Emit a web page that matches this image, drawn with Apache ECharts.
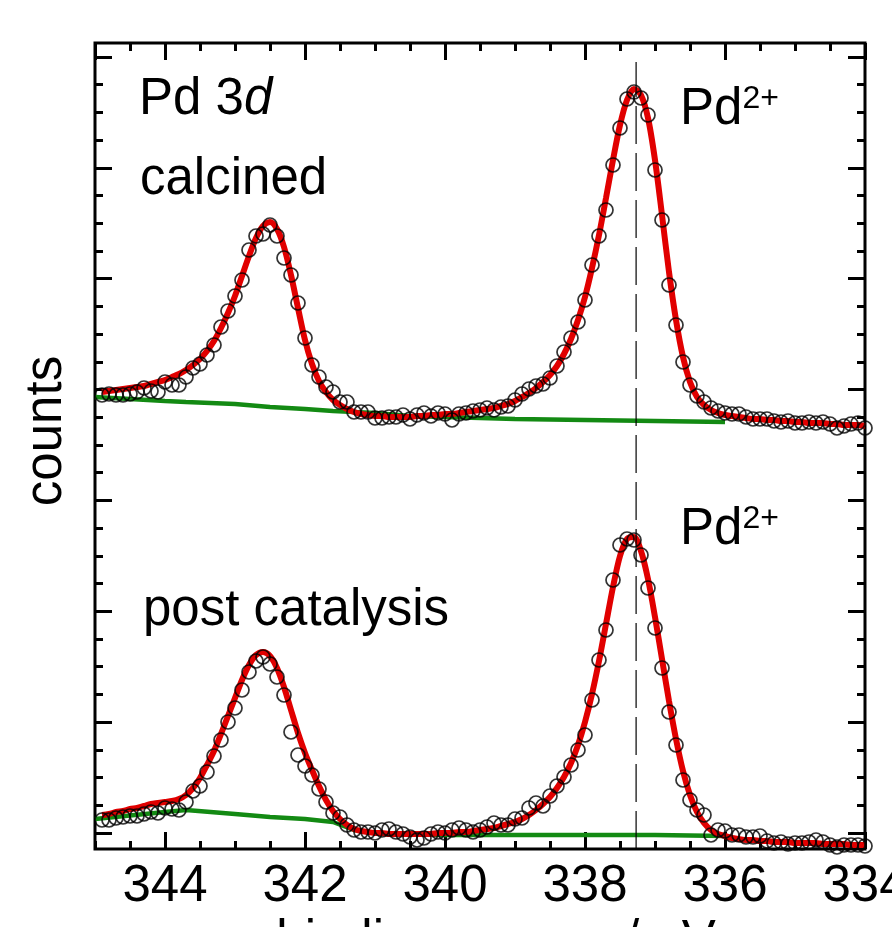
<!DOCTYPE html>
<html>
<head>
<meta charset="utf-8">
<script src="https://cdn.jsdelivr.net/npm/echarts@6/dist/echarts.min.js"></script>
<style>
html,body{margin:0;padding:0;background:#fff;}
#chart{width:892px;height:927px;}
</style>
</head>
<body>
<div id="chart"></div>
<script>
// binding energy grid (eV) of the measured points
var energy = [
344.9,344.8,344.7,344.6,344.5,344.4,344.3,344.2,344.1,344.0,
343.9,343.8,343.7,343.6,343.5,343.4,343.3,343.2,343.1,343.0,
342.9,342.8,342.7,342.6,342.5,342.4,342.3,342.2,342.1,342.0,
341.9,341.8,341.7,341.6,341.5,341.4,341.3,341.2,341.1,341.0,
340.9,340.8,340.7,340.6,340.5,340.4,340.3,340.2,340.1,340.0,
339.9,339.8,339.7,339.6,339.5,339.4,339.3,339.2,339.1,339.0,
338.9,338.8,338.7,338.6,338.5,338.4,338.3,338.2,338.1,338.0,
337.9,337.8,337.7,337.6,337.5,337.4,337.3,337.2,337.1,337.0,
336.9,336.8,336.7,336.6,336.5,336.4,336.3,336.2,336.1,336.0,
335.9,335.8,335.7,335.6,335.5,335.4,335.3,335.2,335.1,335.0,
334.9,334.8,334.7,334.6,334.5,334.4,334.3,334.2,334.1,334.0];

// calcined: measured counts (offset upward) and fit
var calcinedCounts = [
454,455,454,454,455,457,461,458,457,467,
464,464,472,481,485,494,504,522,538,553,
569,599,613,615,624,613,591,574,546,511,
484,472,462,457,447,447,437,437,437,431,
431,432,432,434,430,434,436,433,436,435,
429,435,436,438,439,441,439,442,443,449,
455,460,463,465,471,483,497,511,527,549,
584,613,639,684,721,750,757,751,734,679,
629,564,524,487,464,453,447,441,438,436,
435,435,432,430,430,430,428,427,428,426,
426,427,426,427,425,421,423,425,426,421];
var calcinedFit = [
457,458,459,460,461,462,463,465,467,469,
472,475,479,484,490,498,508,521,536,553,
573,593,611,623,627,620,602,574,541,509,
485,468,457,449,444,440,437,435,434,433,
433,432,432,432,432,433,433,434,434,435,
435,436,437,438,439,440,441,443,445,448,
452,456,461,467,474,483,495,510,529,552,
581,614,651,689,724,749,760,754,731,689,
634,577,529,492,467,452,444,439,436,434,
433,432,431,430,430,429,429,428,428,427,
427,426,426,426,425,425,424,424,424,423];

// post catalysis: measured counts and fit
var postCounts = [
29,29,31,32,33,33,35,37,36,41,
40,39,47,58,63,77,93,109,127,141,
159,177,188,192,185,172,154,117,94,83,
74,60,47,36,32,24,19,17,17,16,
19,20,17,15,12,9,11,15,17,16,
19,21,19,17,19,22,26,24,24,30,
31,41,46,43,53,63,72,84,99,114,
149,189,219,269,304,310,309,294,261,221,
181,137,104,69,49,39,34,14,19,18,
14,14,12,12,13,8,6,7,5,6,
6,7,9,7,4,2,4,4,4,3];
var postFit = [
34,35,37,38,40,41,43,45,46,47,
48,50,54,61,71,84,98,115,133,151,
169,184,194,197,193,181,162,139,116,96,
79,63,49,38,30,24,20,18,17,16,
16,15,15,15,15,15,15,15,16,16,
16,17,17,18,19,20,21,23,25,27,
30,34,39,45,52,61,72,86,104,127,
155,188,225,262,293,310,312,298,270,232,
190,148,110,78,54,37,26,19,15,13,
11,10,9,9,8,8,7,7,7,6,
6,6,6,5,5,5,5,4,4,4];

// backgrounds
var bgEnergy = [345.0,344.0,343.7,343.0,342.5,342.0,341.6,341.3,341.0,340.5,340.0,339.0,338.0,337.0,336.0];
var calcinedBg = [452,448,447,445,442,440,438,437,436,433,432,430,429,428,427];
var postBg = [30,37,39,35,32,30,27,19,16,15,14,14,14,14,13];

// Pd2+ reference position
var refEnergy = [337.27,337.27];
var refCounts = [0,787];

// axis ticks
var xTickLabels = ['334','336','338','340','342','344'];

function pairs(xs, ys){ var o=[]; for(var i=0;i<xs.length;i++) o.push([xs[i],ys[i]]); return o; }

var FONT = '"Liberation Sans", Arial, sans-serif';
var chart = echarts.init(document.getElementById('chart'), null, {renderer:'canvas'});

function xAx(pos, interval, len, labels){
  return {
    type:'value', gridIndex:0, position:pos, min:334, max:345, inverse:true, interval:interval,
    axisLine:{show:false}, splitLine:{show:false},
    axisTick:{show:true, inside:true, length:len, lineStyle:{color:'#000', width:3}},
    axisLabel:{show:labels, color:'#000', fontSize:51, fontFamily:FONT, margin:12, showMaxLabel:false,
      formatter:function(v){ var s=String(v); return xTickLabels.indexOf(s)>=0 ? s : ''; }}
  };
}
function yAx(pos, interval, len){
  return {
    type:'value', gridIndex:1, position:pos, min:0, max:28, interval:interval,
    axisLine:{show:false}, splitLine:{show:false}, axisLabel:{show:false},
    axisTick:{show:true, inside:true, length:len, lineStyle:{color:'#000', width:3}}
  };
}

var xMain = xAx('bottom', 2, 17, true);
xMain.name = 'binding energy / eV';
xMain.nameLocation = 'middle';
xMain.nameGap = 58;
xMain.nameTextStyle = {color:'#000', fontSize:51, fontFamily:FONT, padding:[0,0,0,32]};

var option = {
  backgroundColor:'#fff',
  animation:false,
  grid:[
    {left:95, right:27, top:43, bottom:78, show:true, borderColor:'#000', borderWidth:3, backgroundColor:'transparent', outerBoundsMode:'none', containLabel:false},
    {left:95, right:27, top:57, bottom:94, show:false, outerBoundsMode:'none', containLabel:false}
  ],
  xAxis:[
    xMain,
    xAx('bottom', 0.5, 8, false),
    xAx('top', 2, 17, false),
    xAx('top', 0.5, 8, false),
    {type:'value', gridIndex:1, show:false, min:0, max:1}
  ],
  yAxis:[
    {type:'value', gridIndex:0, min:0, max:806, show:false},
    yAx('left', 4, 17), yAx('left', 1, 8), yAx('right', 4, 17), yAx('right', 1, 8)
  ],
  series:[
    {type:'line', data:pairs(bgEnergy, calcinedBg), showSymbol:false, symbol:'none', lineStyle:{color:'#138a13', width:4.5}, z:2},
    {type:'line', data:pairs(bgEnergy, postBg), showSymbol:false, symbol:'none', lineStyle:{color:'#138a13', width:4.5}, z:2},
    {type:'line', data:pairs(energy, calcinedFit), symbol:'none', smooth:0.3, lineStyle:{color:'#e10000', width:6}, z:3},
    {type:'line', data:pairs(energy, postFit), symbol:'none', smooth:0.3, lineStyle:{color:'#e10000', width:6}, z:3},
    {type:'line', data:pairs(refEnergy, refCounts), symbol:'none', lineStyle:{color:'#000', width:1.2, type:[38,9]}, z:4},
    {type:'scatter', data:pairs(energy, calcinedCounts), symbol:'circle', symbolSize:14,
      itemStyle:{color:'rgba(0,0,0,0)', borderColor:'#000', borderWidth:1.7}, z:5},
    {type:'scatter', data:pairs(energy, postCounts), symbol:'circle', symbolSize:14,
      itemStyle:{color:'rgba(0,0,0,0)', borderColor:'#000', borderWidth:1.7}, z:5}
  ],
  graphic:[
    {type:'text', x:139, y:100, style:{text:'{a|Pd 3}{b|d}', verticalAlign:'middle', align:'left',
      rich:{a:{fontSize:51, fontFamily:FONT, fill:'#000', lineHeight:52},
            b:{fontSize:51, fontFamily:FONT, fill:'#000', fontStyle:'italic', lineHeight:52}}}},
    {type:'text', x:140, y:180, style:{text:'calcined', fontSize:51, fontFamily:FONT, fill:'#000', verticalAlign:'middle', align:'left'}},
    {type:'text', x:143, y:611, style:{text:'post catalysis', fontSize:51, fontFamily:FONT, fill:'#000', verticalAlign:'middle', align:'left'}},
    {type:'text', x:680, y:109, style:{text:'{n|Pd}{s|2+}', verticalAlign:'middle', align:'left',
      rich:{n:{fontSize:51, fontFamily:FONT, fill:'#000', lineHeight:52, verticalAlign:'bottom'},
            s:{fontSize:32, fontFamily:FONT, fill:'#000', lineHeight:46, verticalAlign:'top'}}}},
    {type:'text', x:680, y:529, style:{text:'{n|Pd}{s|2+}', verticalAlign:'middle', align:'left',
      rich:{n:{fontSize:51, fontFamily:FONT, fill:'#000', lineHeight:52, verticalAlign:'bottom'},
            s:{fontSize:32, fontFamily:FONT, fill:'#000', lineHeight:46, verticalAlign:'top'}}}},
    {type:'text', x:47, y:431, rotation:Math.PI/2, style:{text:'counts', fontSize:51, fontFamily:FONT, fill:'#000', verticalAlign:'middle', align:'center'}}
  ]
};
chart.setOption(option);
</script>
</body>
</html>
